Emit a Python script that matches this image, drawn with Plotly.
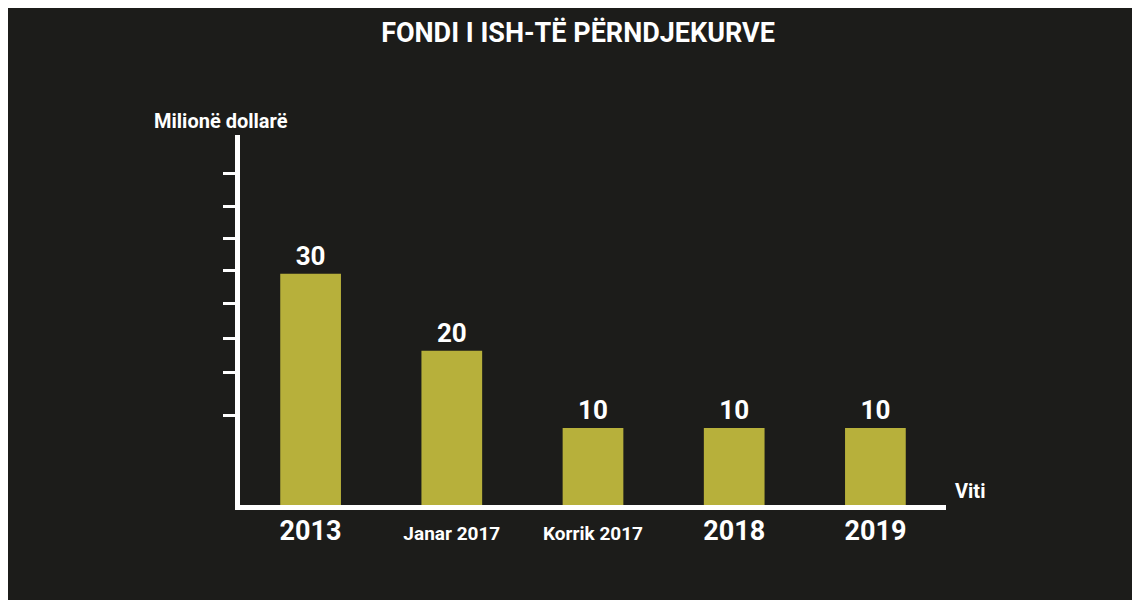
import plotly.graph_objects as go

categories = ['2013', 'Janar 2017', 'Korrik 2017', '2018', '2019']
values = [30, 20, 10, 10, 10]
label_sizes = [27, 19, 19, 27, 27]
tick_vals = [11.6, 17.2, 21.6, 26.1, 30.4, 34.6, 38.7, 43]

ticktext = [f'<span style="font-size:{s}px"><b>{c}</b></span>' for c, s in zip(categories, label_sizes)]

fig = go.Figure(go.Bar(
    x=categories, y=values,
    marker_color='#b7b03b', marker_line_width=0, width=0.43,
    text=[f'<b>{v}</b>' for v in values], textposition='outside',
    textfont=dict(size=26, color='white', family='Roboto'),
    cliponaxis=False,
))

fig.update_layout(
    width=1140, height=600,
    paper_bgcolor='#1c1c1a', plot_bgcolor='rgba(0,0,0,0)',
    margin=dict(l=232, r=202, t=127, b=103, autoexpand=False),
    font=dict(family='Roboto', color='white'),
    showlegend=False,
    title=dict(text='<b>FONDI I ISH-TË PËRNDJEKURVE</b>', x=0.5, xanchor='center',
               y=0.975, font=dict(size=27, color='white')),
)
fig.update_xaxes(tickvals=categories, ticktext=ticktext, showline=True, linecolor='white',
                 linewidth=5, ticks='', ticklabelstandoff=16, tickfont=dict(color='white'),
                 showgrid=False)
fig.update_yaxes(range=[0, 48], tickvals=tick_vals, showticklabels=False, ticks='outside',
                 ticklen=12, tickwidth=3, tickcolor='white', showline=True, linecolor='white',
                 linewidth=5, showgrid=False, zeroline=False)
fig.add_annotation(text='<b>Milionë dollarë</b>', xref='paper', yref='paper', x=-0.125, y=1.0,
                   xanchor='left', yanchor='bottom', showarrow=False,
                   font=dict(size=20, color='white'))
fig.add_annotation(text='<b>Viti</b>', xref='paper', yref='paper', x=1.01, y=0.0,
                   xanchor='left', yanchor='bottom', showarrow=False,
                   font=dict(size=20, color='white'))
fig.write_html('out.html')
